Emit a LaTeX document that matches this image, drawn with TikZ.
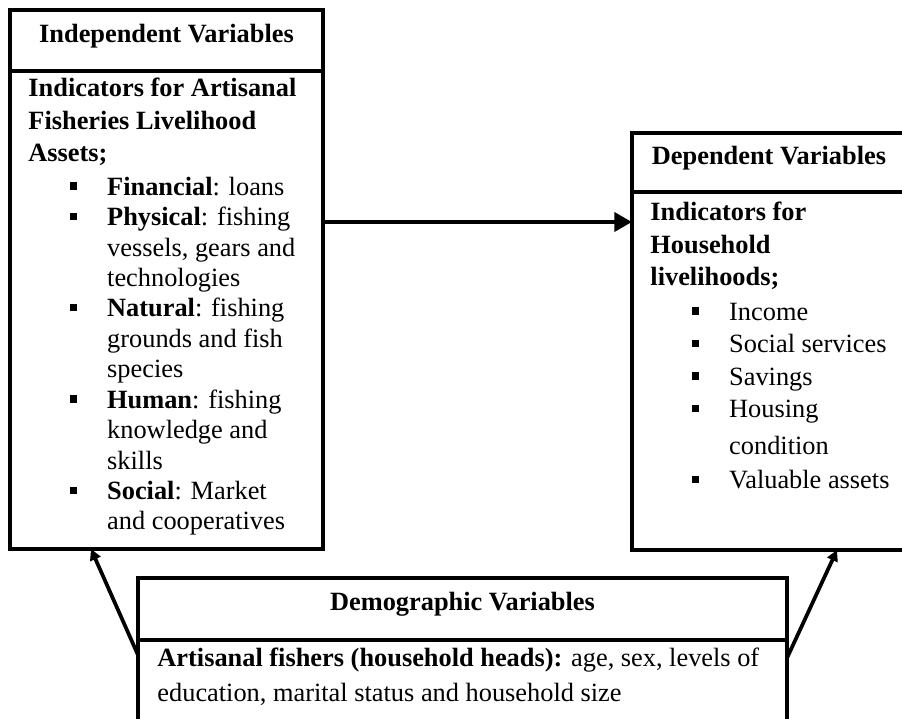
\documentclass[tikz,border=0pt]{standalone}
\usepackage{fontspec}
\setmainfont{Liberation Serif}
\usetikzlibrary{arrows.meta,calc,positioning}
\newcommand{\bul}{\hspace*{0.66cm}\makebox[0.6cm][l]{\rule[2.6pt]{3.3pt}{3.3pt}}}
\newcommand{\cnt}{\hspace*{1.26cm}}

\begin{document}
\begin{tikzpicture}
\tikzset{hdr/.style={draw, rectangle, line width=1.6pt, outer sep=0pt, inner sep=0pt, text height=8.2pt, text depth=6.5pt, font=\fontsize{12}{14}\selectfont\bfseries}}
\tikzset{frame/.style={draw, rectangle, line width=1.6pt, outer sep=0pt, inner sep=0pt}}
\tikzset{txt/.style={align=left, inner sep=0pt, anchor=north west}}
\tikzset{bigarr/.style={line width=2.1pt, -{Triangle[length=8pt,width=8.5pt]}}}
\tikzset{arr/.style={line width=1.7pt, -{Triangle[length=5pt,width=5pt]}}}

\useasboundingbox (0,0) rectangle (14.432,11.504);

%% Independent Variables
\node[hdr, minimum width=5.008cm, minimum height=0.976cm, anchor=north west] (indhead) at (0.16,11.344) {Independent Variables};
\node[frame, minimum width=5.008cm, minimum height=7.648cm, anchor=north] (indbody) at (indhead.south) {};
\node[txt, font=\fontsize{12}{13.85}\selectfont] (indtext) at (0.448,10.27) {%
    \textbf{Indicators for Artisanal}\\[1.5pt]
    \textbf{Fisheries Livelihood}\\[0.6pt]
    \textbf{Assets;}\\[1.5pt]
    \bul\textbf{Financial}: loans\\
    \bul\textbf{Physical}: fishing\\
    \cnt vessels, gears and\\
    \cnt technologies\\
    \bul\textbf{Natural}: fishing\\
    \cnt grounds and fish\\
    \cnt species\\
    \bul\textbf{Human}: fishing\\
    \cnt knowledge and\\
    \cnt skills\\
    \bul\textbf{Social}: Market\\
    \cnt and cooperatives};

%% Dependent Variables
\node[hdr, minimum width=4.384cm, minimum height=0.944cm, anchor=north west] (dephead) at (10.112,9.376) {Dependent Variables};
\node[frame, minimum width=4.384cm, minimum height=5.728cm, anchor=north] (depbody) at (dephead.south) {};
\node[txt, font=\fontsize{12}{14.8}\selectfont] (deptext) at (10.4,8.28) {%
    \textbf{Indicators for}\\
    \textbf{Household}\\
    \textbf{livelihoods;}\\[1pt]
    \bul Income\\
    \bul Social services\\
    \bul Savings\\
    \bul Housing\\[1.8pt]
    \cnt condition\\[1pt]
    \bul Valuable assets};

%% Demographic Variables
\node[hdr, minimum width=10.384cm, minimum height=0.992cm, anchor=north west] (demohead) at (2.208,2.256) {Demographic Variables};
\node[frame, minimum width=10.384cm, minimum height=1.33cm, anchor=north] (demobody) at (demohead.south) {};
\node[txt, font=\fontsize{12}{15.9}\selectfont] (demotext) at (2.512,1.144) {%
    \textbf{Artisanal fishers (household heads):} age, sex, levels of\\
    education, marital status and household size};

%% links
\coordinate (ya) at (0,7.952);
\draw[bigarr] (indbody.east |- ya) -- (depbody.west |- ya);
\draw[arr] ($(demobody.north west)+(0,-0.24)$) -- ($(indbody.south west)+(1.296,0)$);
\draw[arr] ($(demobody.north east)+(0,-0.288)$) -- ($(depbody.south west)+(3.28,0)$);

\end{tikzpicture}
\end{document}
